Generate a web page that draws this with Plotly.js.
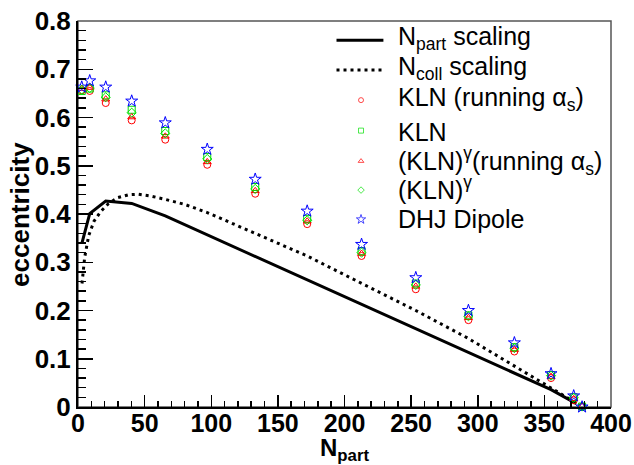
<!DOCTYPE html>
<html>
<head>
<meta charset="utf-8">
<script src="https://cdn.plot.ly/plotly-3.0.1.min.js"></script>
<style>html,body{margin:0;padding:0;background:#fff;}#chart{width:634px;height:465px;}</style>
</head>
<body>
<div id="chart"></div>
<script>
// Data
var npart      = [2.8, 8.8, 20.8, 40.3, 65.5, 97, 133, 172, 212.8, 253.5, 293, 327.5, 355, 372, 378.3];
var klnRunning = [0.656, 0.655, 0.630, 0.594, 0.554, 0.502, 0.442, 0.379, 0.313, 0.244, 0.180, 0.115, 0.060, 0.014, 0.001];
var kln        = [0.655, 0.660, 0.646, 0.616, 0.572, 0.518, 0.456, 0.390, 0.323, 0.256, 0.190, 0.124, 0.066, 0.020, 0.001];
var klnGRun    = [0.660, 0.662, 0.638, 0.601, 0.561, 0.508, 0.448, 0.385, 0.318, 0.250, 0.185, 0.119, 0.063, 0.017, 0.001];
var klnG       = [0.658, 0.661, 0.642, 0.610, 0.567, 0.514, 0.452, 0.387, 0.320, 0.253, 0.188, 0.122, 0.065, 0.019, 0.001];
var dhj        = [0.663, 0.676, 0.663, 0.634, 0.589, 0.534, 0.472, 0.406, 0.337, 0.268, 0.200, 0.133, 0.069, 0.023, 0.000];

var npartLine   = [3.0, 8.8, 20.8, 40.3, 65.5, 97, 133, 172, 212.8, 253.5, 293, 327.5, 355, 374];
var npartScal   = [0.340, 0.401, 0.427, 0.422, 0.396, 0.357, 0.312, 0.264, 0.213, 0.162, 0.113, 0.070, 0.036, 0.007];

var ncollX      = [3, 5, 8, 12, 17, 23, 30, 38, 45, 55, 66, 80, 97, 133, 172, 213, 253.5, 293, 327.5, 355, 374];
var ncollScal   = [0.256, 0.310, 0.355, 0.385, 0.405, 0.422, 0.434, 0.440, 0.441, 0.437, 0.430, 0.420, 0.403, 0.360, 0.313, 0.256, 0.200, 0.142, 0.085, 0.040, 0.008];

var names = ['N<sub>part</sub> scaling', 'N<sub>coll</sub> scaling', 'KLN (running \u03B1<sub>s</sub>)', 'KLN',
             '(KLN)<sup>\u03B3</sup>(running \u03B1<sub>s</sub>)', '(KLN)<sup>\u03B3</sup>', 'DHJ Dipole'];
var symbols = ['circle-open', 'square-open', 'triangle-up-open', 'diamond-open', 'star-open'];
var colors  = ['#ff0000', '#00e000', '#ff0000', '#00e000', '#0000ff'];
var sizes   = [7, 7, 7, 7, 9];
var series  = [klnRunning, kln, klnGRun, klnG, dhj];

// Legend geometry (paper fractions of the plot area)
var legTextX = 0.597;
var legRowY  = [0.957, 0.878, 0.797, 0.712, 0.637, 0.567, 0.487];
var legMarkX = 0.531;
var legMarkY = [0.795, 0.716, 0.637, 0.562, 0.486];
var legLineX = [0.485, 0.573];
var legLineY = [0.950, 0.873];

var traces = [
  {x: npartLine, y: npartScal, name: names[0], type: 'scatter', mode: 'lines',
   line: {color: '#000', width: 3}},
  {x: ncollX, y: ncollScal, name: names[1], type: 'scatter', mode: 'lines',
   line: {color: '#000', width: 3, dash: '3px,4px'}}
];
for (var i = 0; i < series.length; i++) {
  traces.push({x: npart, y: series[i], name: names[i + 2], type: 'scatter', mode: 'markers', cliponaxis: false,
    marker: {symbol: symbols[i], size: sizes[i], color: colors[i], line: {color: colors[i], width: 1}}});
}
// legend sample markers on an overlay axis
traces.push({x: legMarkY.map(function () { return legMarkX; }), y: legMarkY, xaxis: 'x2', yaxis: 'y2',
  type: 'scatter', mode: 'markers', hoverinfo: 'skip', cliponaxis: false,
  marker: {symbol: symbols, size: sizes.map(function (s) { return s - 2; }), color: colors,
           line: {color: colors, width: 1}}});

var annotations = names.map(function (t, k) {
  return {xref: 'paper', yref: 'paper', x: legTextX, y: legRowY[k], xanchor: 'left', yanchor: 'middle',
          text: t, showarrow: false, align: 'left',
          font: {family: 'Liberation Sans, Arial, sans-serif', size: 25, color: '#000'}};
});
annotations.push({xref: 'paper', yref: 'paper', x: -0.109, y: 0.5, xanchor: 'center', yanchor: 'middle',
  textangle: -90, text: '<b>eccentricity</b>', showarrow: false,
  font: {family: 'Liberation Sans, Arial, sans-serif', size: 26, color: '#000'}});

var layout = {
  width: 634, height: 465,
  margin: {l: 78, r: 23, t: 21, b: 58},
  paper_bgcolor: '#fff', plot_bgcolor: '#fff',
  font: {family: 'Liberation Sans, Arial, sans-serif', color: '#000'},
  showlegend: false,
  xaxis: {
    range: [0, 400], dtick: 50, tick0: 0, showgrid: false, zeroline: false,
    showline: true, linecolor: '#000', linewidth: 2,
    ticks: 'inside', ticklen: 12, tickwidth: 1.5, tickcolor: '#000',
    minor: {dtick: 10, ticks: 'inside', ticklen: 6, tickwidth: 1.5, tickcolor: '#000', showgrid: false},
    tickfont: {family: 'Liberation Sans, Arial, sans-serif', size: 25, color: '#000', weight: 'bold'},
    ticklabelstandoff: -7,
    title: {text: '<b>N<sub>part</sub></b>', font: {family: 'Liberation Sans, Arial, sans-serif', size: 24, color: '#000'}, standoff: 2}
  },
  yaxis: {
    range: [0, 0.8], dtick: 0.1, tick0: 0, showgrid: false, zeroline: false,
    showline: true, linecolor: '#000', linewidth: 2,
    ticks: 'inside', ticklen: 15, tickwidth: 1.5, tickcolor: '#000',
    minor: {dtick: 0.02, ticks: 'inside', ticklen: 8, tickwidth: 1.5, tickcolor: '#000', showgrid: false},
    tickfont: {family: 'Liberation Sans, Arial, sans-serif', size: 26, color: '#000', weight: 'bold'}
  },
  xaxis2: {overlaying: 'x', range: [0, 1], visible: false, fixedrange: true},
  yaxis2: {overlaying: 'y', range: [0, 1], visible: false, fixedrange: true},
  annotations: annotations,
  shapes: [
    {type: 'rect', xref: 'paper', yref: 'paper', x0: 0, x1: 1, y0: 0, y1: 1,
     line: {color: '#555', width: 1.5}, layer: 'below'},
    {type: 'line', xref: 'paper', yref: 'paper', x0: legLineX[0], x1: legLineX[1], y0: legLineY[0], y1: legLineY[0],
     line: {color: '#000', width: 3}},
    {type: 'line', xref: 'paper', yref: 'paper', x0: legLineX[0], x1: legLineX[1], y0: legLineY[1], y1: legLineY[1],
     line: {color: '#000', width: 3, dash: '3px,4px'}}
  ]
};

Plotly.newPlot('chart', traces, layout, {displayModeBar: false, staticPlot: true});
</script>
</body>
</html>
